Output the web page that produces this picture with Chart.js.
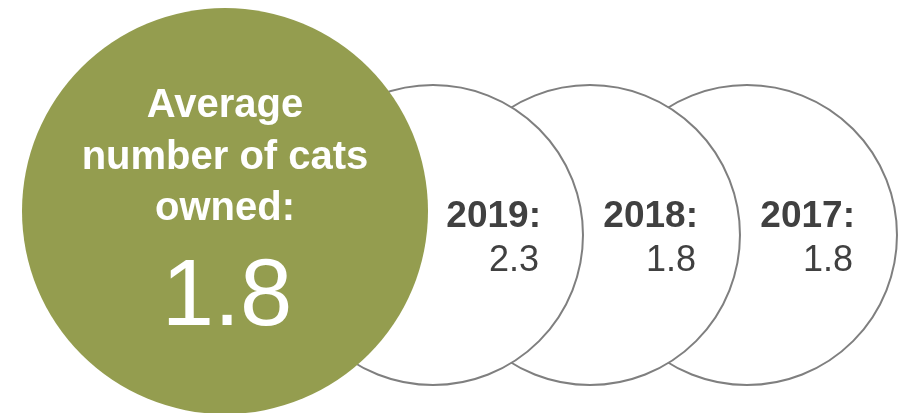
<!DOCTYPE html>
<html>
<head>
<meta charset="utf-8">
<script src="https://cdn.jsdelivr.net/npm/chart.js@4"></script>
<style>
  html, body { margin: 0; padding: 0; background: #fff; }
  #wrap { width: 909px; height: 413px; }
</style>
</head>
<body>
<div id="wrap"><canvas id="catsChart"></canvas></div>
<script>
// data
const headlineLines = ['Average', 'number of cats', 'owned:'];
const headlineValue = 1.8;
const years = ['2019', '2018', '2017'];
const yearValues = [2.3, 1.8, 1.8];

const green = '#949d4f';
const textDark = '#404040';
const ringGrey = '#7f7f7f';
const fontFamily = "'Liberation Sans', Arial, sans-serif";

// one dataset per year so the left circle sits on top of the one to its right
const yearSets = years.map((yr, i) => ({
    label: yr,
    data: [{ x: i + 1, y: 0 }],
    xAxisID: 'x',
    yAxisID: 'y',
    pointRadius: 150,
    pointBorderWidth: 2,
    pointBorderColor: ringGrey,
    pointBackgroundColor: '#ffffff',
    clip: false
}));

const labelPlugin = {
    id: 'circleLabels',
    afterDatasetsDraw(chart) {
        const ctx = chart.ctx;
        ctx.save();

        // headline circle
        const head = chart.getDatasetMeta(0).data[0];
        ctx.fillStyle = '#ffffff';
        ctx.textAlign = 'center';
        ctx.textBaseline = 'alphabetic';
        ctx.font = `bold 40px ${fontFamily}`;
        headlineLines.forEach((line, i) => {
            ctx.fillText(line, head.x, head.y - 94 + i * 51.5);
        });
        ctx.font = `94px ${fontFamily}`;
        ctx.fillText(headlineValue.toFixed(1), head.x + 2, head.y + 114);

        // year circles
        ctx.fillStyle = textDark;
        ctx.textAlign = 'right';
        years.forEach((yr, i) => {
            const pt = chart.getDatasetMeta(i + 1).data[0];
            ctx.font = `bold 37px ${fontFamily}`;
            ctx.fillText(yr + ':', pt.x + 108, pt.y - 8);
            ctx.font = `36px ${fontFamily}`;
            ctx.fillText(yearValues[i].toFixed(1), pt.x + 106, pt.y + 36);
        });

        ctx.restore();
    }
};

const ctxCats = document.getElementById('catsChart').getContext('2d');
new Chart(ctxCats, {
    type: 'scatter',
    data: {
        datasets: [
            {
                label: 'Average',
                data: [{ x: 0, y: 0 }],
                xAxisID: 'xHead',
                yAxisID: 'yHead',
                pointRadius: 203,
                pointBorderWidth: 0,
                pointBackgroundColor: green,
                clip: false
            },
            ...yearSets
        ]
    },
    options: {
        responsive: true,
        maintainAspectRatio: false,
        animation: false,
        events: [],
        layout: { padding: 0, autoPadding: false },
        plugins: {
            legend: { display: false },
            tooltip: { enabled: false }
        },
        scales: {
            x: { type: 'linear', display: false, min: -1.758, max: 4.032 },
            y: { type: 'linear', display: false, min: -0.757, max: 1 },
            xHead: { type: 'linear', display: false, min: -1, max: 3.04 },
            yHead: { type: 'linear', display: false, min: -0.957, max: 1 }
        }
    },
    plugins: [labelPlugin]
});
</script>
</body>
</html>
